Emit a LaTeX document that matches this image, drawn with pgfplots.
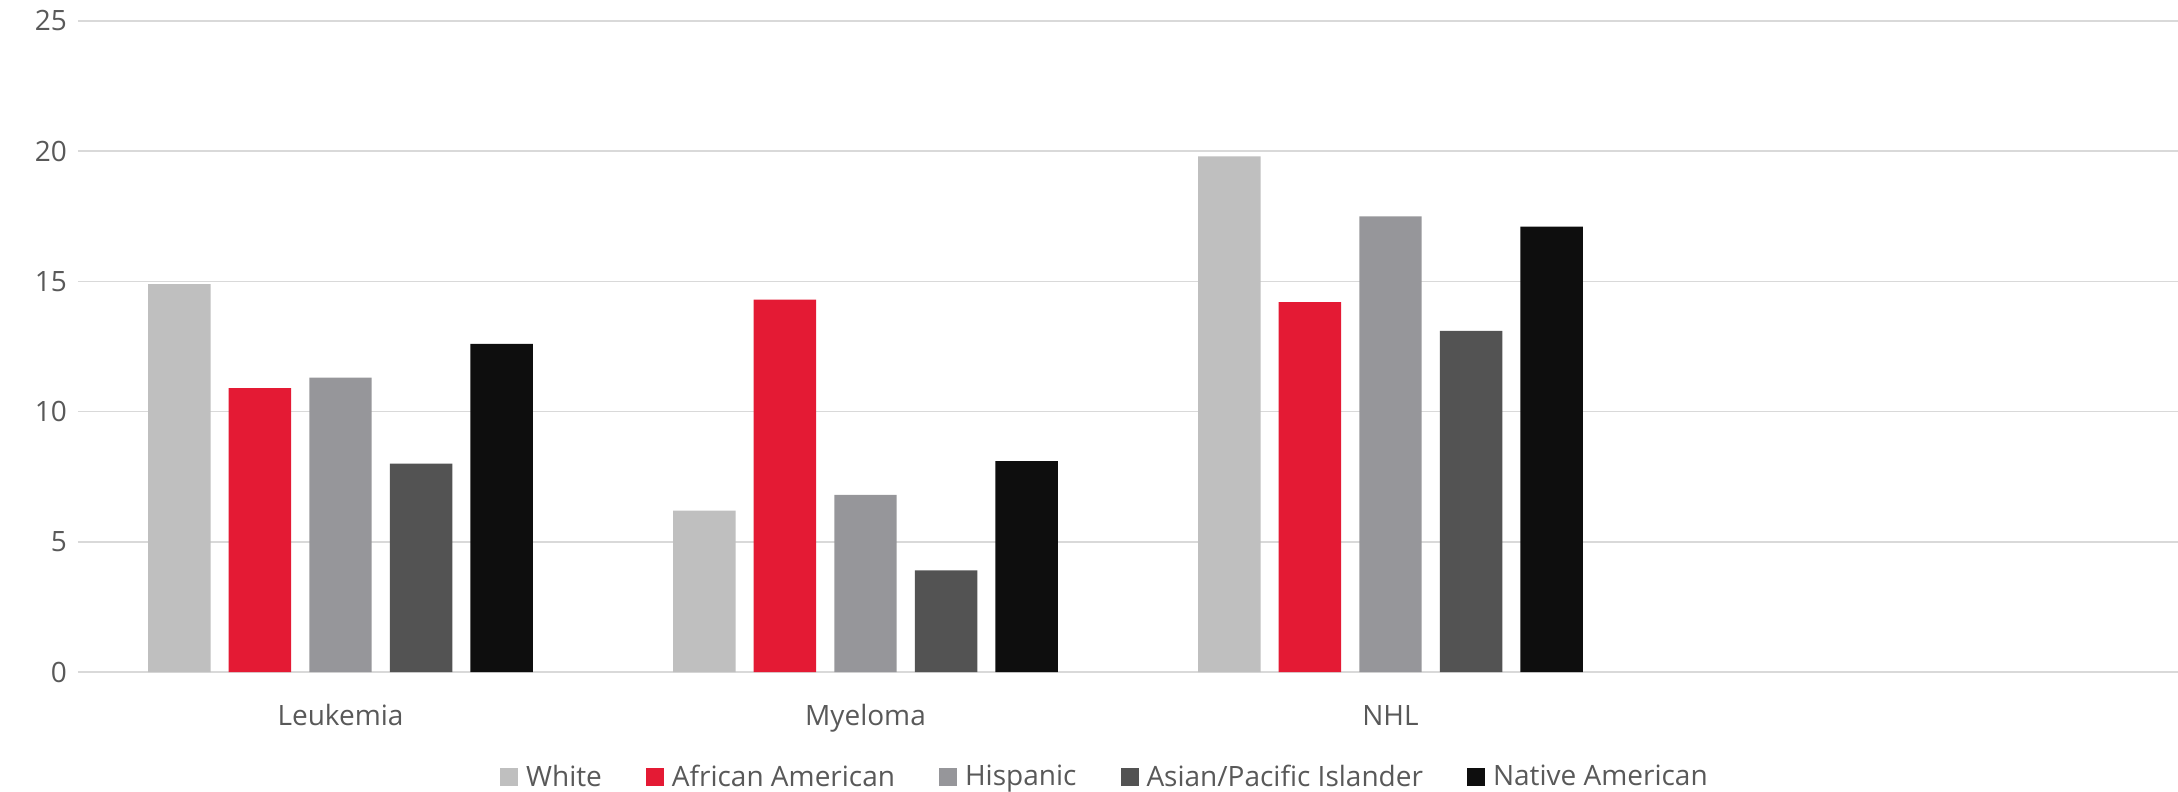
\documentclass[border=0pt]{standalone}
\usepackage{pgfplots}
\pgfplotsset{compat=1.18}
\usepackage{fontspec}
\setmainfont{Open Sans}
\definecolor{cWhite}{HTML}{BFBFBF}
\definecolor{cAfr}{HTML}{E41A34}
\definecolor{cHisp}{HTML}{96969A}
\definecolor{cAsian}{HTML}{535353}
\definecolor{cNative}{HTML}{0E0E0E}
\definecolor{txt}{HTML}{595959}
\definecolor{gridc}{HTML}{D9D9D9}
\begin{document}
\begin{tikzpicture}
\path[use as bounding box] (-39pt,-60pt) rectangle (1050pt,336pt);
\begin{axis}[
  at={(0,0)}, anchor=south west,
  width=1050pt, height=325.5pt, scale only axis,
  xmin=-0.5, xmax=3.5, ymin=0, ymax=25,
  xtick={0,1,2,3}, xticklabels={Leukemia,Myeloma,NHL,{}},
  ytick={0,5,10,15,20,25},
  ymajorgrids, grid style={gridc, line width=0.8pt},
  axis line style={draw=none},
  major tick length=0pt,
  ybar, bar width=0.119,
  ticklabel style={font=\fontsize{14}{16}\selectfont, text=txt},
  /pgf/number format/assume math mode=true,
  x tick label style={anchor=base, yshift=-26.5pt},
  y tick label style={anchor=east, xshift=-2pt},
  legend style={draw=none, at={(0.4895,-0.1613)}, anchor=center,
    font=\fontsize{14}{16}\selectfont, text=txt, legend columns=-1,
    /tikz/every odd column/.append style={column sep=2pt},
    /tikz/every even column/.append style={column sep=20pt}},
  legend image code/.code={\fill[#1] (0pt,-4.5pt) rectangle (9pt,4.5pt);},
]
\addplot[fill=cWhite, draw=none, bar shift=-0.3068] coordinates {(0,14.9) (1,6.2) (2,19.8)};
\addplot[fill=cAfr, draw=none, bar shift=-0.1534] coordinates {(0,10.9) (1,14.3) (2,14.2)};
\addplot[fill=cHisp, draw=none, bar shift=0] coordinates {(0,11.3) (1,6.8) (2,17.5)};
\addplot[fill=cAsian, draw=none, bar shift=0.1534] coordinates {(0,8.0) (1,3.9) (2,13.1)};
\addplot[fill=cNative, draw=none, bar shift=0.3068] coordinates {(0,12.6) (1,8.1) (2,17.1)};
\legend{White, African American, Hispanic, Asian/Pacific Islander, Native American}
\end{axis}
\end{tikzpicture}
\end{document}
